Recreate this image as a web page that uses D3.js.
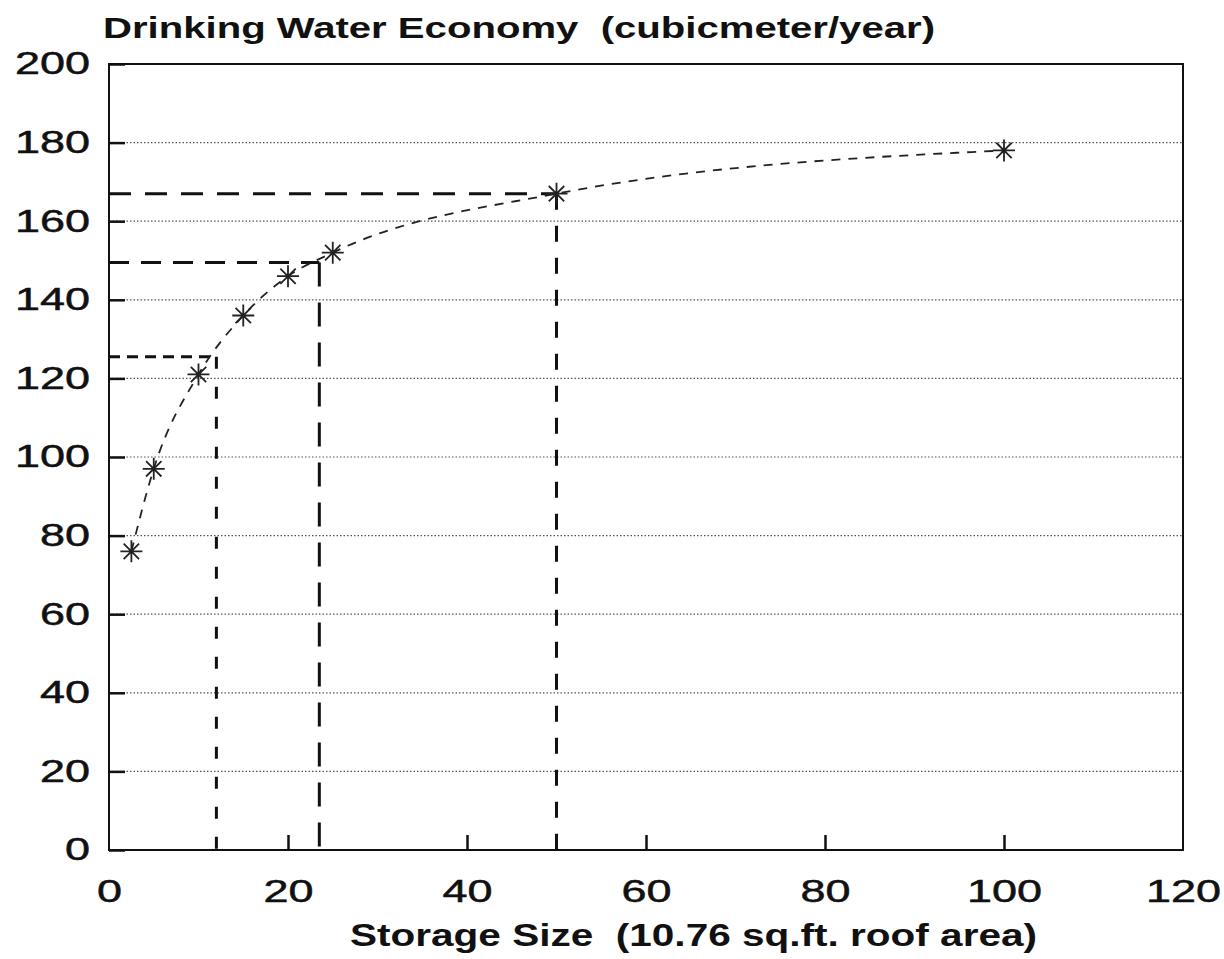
<!DOCTYPE html>
<html>
<head>
<meta charset="utf-8">
<script src="https://cdn.jsdelivr.net/npm/d3@7"></script>
<style>
  body { margin: 0; background: #fff; }
  text { font-family: "Liberation Sans", Arial, sans-serif; fill: #111; white-space: pre; }
</style>
</head>
<body>
<div id="chart"></div>
<script>
// storage size vs drinking water economy
var storage = [2.5, 5, 10, 15, 20, 25, 50, 100];
var economy = [76, 97, 121, 136, 146, 152, 167, 178];

// dashed guide lines (corner points)
var guideX = [12, 23.5, 50];
var guideY = [125.5, 149.5, 167];
var guideDash = ["11,7", "20,12", "22,14"];
var guideDashV = ["12,18", "24,16", "16,16"];

var xTicks = [0, 20, 40, 60, 80, 100, 120];
var yTicks = [0, 20, 40, 60, 80, 100, 120, 140, 160, 180, 200];
var gridY = [20, 40, 60, 80, 100, 120, 140, 160, 180];

var W = 1224, H = 959;
var mLeft = 109, mRight = 1183, mTop = 64, mBottom = 850;

var svg = d3.select("#chart").append("svg")
  .attr("width", W).attr("height", H);

var x = d3.scaleLinear().domain([0, 120]).range([mLeft, mRight]);
var y = d3.scaleLinear().domain([0, 200]).range([mBottom, mTop]);

// dotted grid
svg.selectAll(".grid").data(gridY).enter().append("line")
  .attr("class", "grid")
  .attr("x1", mLeft).attr("x2", mRight)
  .attr("y1", d => y(d)).attr("y2", d => y(d))
  .attr("stroke", "#555").attr("stroke-width", 1.2)
  .attr("stroke-dasharray", "1.5,2");

// frame
svg.append("rect")
  .attr("x", mLeft).attr("y", mTop)
  .attr("width", mRight - mLeft).attr("height", mBottom - mTop)
  .attr("fill", "none").attr("stroke", "#111").attr("stroke-width", 2);

function styleTickText(sel) {
  sel.attr("font-size", 31).attr("fill", "#111")
    .style("font-family", "Liberation Sans, Arial, sans-serif")
    .attr("stroke", "#111").attr("stroke-width", 0.5)
    .attr("textLength", d => String(d).length * 25)
    .attr("lengthAdjust", "spacingAndGlyphs");
}

// y axis ticks (inward) and labels
var yAxis = d3.axisLeft(y).tickValues(yTicks).tickSize(-16).tickPadding(19)
  .tickFormat(d3.format("d"));
var gy = svg.append("g").attr("transform", "translate(" + mLeft + ",0)").call(yAxis);
gy.select(".domain").remove();
gy.selectAll(".tick line").attr("stroke", "#111").attr("stroke-width", 2.5);
gy.selectAll(".tick text").call(styleTickText);

// x axis ticks (upward) and labels
var xAxis = d3.axisBottom(x).tickValues(xTicks).tickSize(-15).tickPadding(30)
  .tickFormat(d3.format("d"));
var gx = svg.append("g").attr("transform", "translate(0," + mBottom + ")").call(xAxis);
gx.select(".domain").remove();
gx.selectAll(".tick line").attr("stroke", "#111").attr("stroke-width", 2.5)
  .attr("opacity", d => (d === 0 || d === 120) ? 0 : 1);
gx.selectAll(".tick text").call(styleTickText);

// guide lines
guideX.forEach(function (gxv, i) {
  svg.append("line")
    .attr("x1", x(0)).attr("x2", x(gxv))
    .attr("y1", y(guideY[i])).attr("y2", y(guideY[i]))
    .attr("stroke", "#111").attr("stroke-width", 3)
    .attr("stroke-dasharray", guideDash[i]);
  svg.append("line")
    .attr("x1", x(gxv)).attr("x2", x(gxv))
    .attr("y1", y(guideY[i])).attr("y2", y(0))
    .attr("stroke", "#111").attr("stroke-width", 3)
    .attr("stroke-dasharray", guideDashV[i]);
});

// dashed curve through the points
var pts = storage.map((s, i) => [s, economy[i]]);
var line = d3.line().x(d => x(d[0])).y(d => y(d[1])).curve(d3.curveMonotoneX);
svg.append("path")
  .attr("d", line(pts))
  .attr("fill", "none").attr("stroke", "#222").attr("stroke-width", 1.8)
  .attr("stroke-dasharray", "9,8");

// asterisk markers
var r = 11;
var star = "M" + (-r) + ",0L" + r + ",0M0," + (-r) + "L0," + r +
  "M" + (-r * 0.7) + "," + (-r * 0.7) + "L" + (r * 0.7) + "," + (r * 0.7) +
  "M" + (-r * 0.7) + "," + (r * 0.7) + "L" + (r * 0.7) + "," + (-r * 0.7);
svg.selectAll(".pt").data(pts).enter().append("path")
  .attr("class", "pt")
  .attr("transform", d => "translate(" + x(d[0]) + "," + y(d[1]) + ")")
  .attr("d", star)
  .attr("stroke", "#222").attr("stroke-width", 1.8).attr("fill", "none");

// titles
svg.append("text")
  .attr("x", 103).attr("y", 38)
  .attr("font-size", 30).attr("font-weight", "bold")
  .attr("textLength", 832).attr("lengthAdjust", "spacingAndGlyphs")
  .text("Drinking Water Economy  (cubicmeter/year)");

svg.append("text")
  .attr("x", 350).attr("y", 946)
  .attr("font-size", 31).attr("font-weight", "bold")
  .attr("textLength", 687).attr("lengthAdjust", "spacingAndGlyphs")
  .text("Storage Size  (10.76 sq.ft. roof area)");
</script>
</body>
</html>
